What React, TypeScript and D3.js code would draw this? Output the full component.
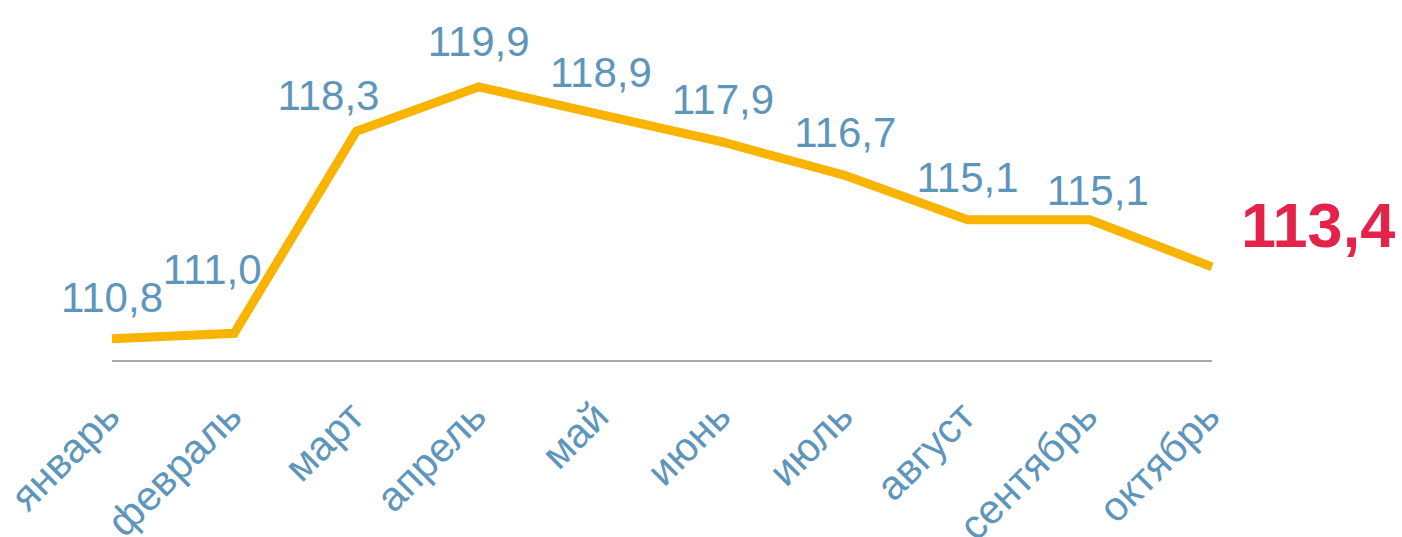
import { useEffect, useRef } from 'react';
import * as d3 from 'd3';

// Monthly index values (Jan–Oct)
const months = ['январь', 'февраль', 'март', 'апрель', 'май', 'июнь', 'июль', 'август', 'сентябрь', 'октябрь'];
const values = [110.8, 111.0, 118.3, 119.9, 118.9, 117.9, 116.7, 115.1, 115.1, 113.4];
const valueLabels = ['110,8', '111,0', '118,3', '119,9', '118,9', '117,9', '116,7', '115,1', '115,1', '113,4'];

// manual nudges of the value labels, as in the original slide
const labelNudge: [number, number][] = [
  [0, -27], [-22, -49], [-28, -21], [0, -31], [0, -28],
  [0, -28], [0, -28], [0, -28], [8, -15], [0, -28],
];

export default function App() {
  const svgRef = useRef<SVGSVGElement>(null);

  useEffect(() => {
    if (!svgRef.current) return;
    const svg = d3.select(svgRef.current);
    svg.selectAll('*').remove();

    const width = 1402;
    const height = 537;
    const blue = '#5e96bb';
    const font = '"Liberation Sans", Arial, sans-serif';

    svg.attr('width', width).attr('height', height);

    const x = d3.scalePoint<string>().domain(months).range([112, 1212]);
    const y = d3.scaleLinear().domain([110, 123]).range([361, 1]);

    // baseline (category axis)
    svg.append('line')
      .attr('x1', x(months[0])!)
      .attr('x2', x(months[months.length - 1])!)
      .attr('y1', y(110))
      .attr('y2', y(110))
      .attr('stroke', '#8a8a8a')
      .attr('stroke-width', 1.5);

    // category labels, rotated
    svg.append('g')
      .selectAll('text')
      .data(months)
      .join('text')
      .attr('transform', d => `translate(${x(d)! + 10}, ${y(110) + 58}) rotate(-45)`)
      .attr('text-anchor', 'end')
      .style('fill', blue)
      .style('font-family', font)
      .style('font-size', '41px')
      .text(d => d);

    // the line
    const line = d3.line<number>()
      .x((_, i) => x(months[i])!)
      .y(d => y(d));

    svg.append('path')
      .datum(values)
      .attr('d', line)
      .attr('fill', 'none')
      .attr('stroke', '#f8b400')
      .attr('stroke-width', 9)
      .attr('stroke-linejoin', 'miter')
      .attr('stroke-linecap', 'butt');

    // value labels (all but the last one)
    const last = values.length - 1;
    svg.append('g')
      .selectAll('text')
      .data(values.slice(0, last))
      .join('text')
      .attr('x', (_, i) => x(months[i])! + labelNudge[i][0])
      .attr('y', (d, i) => y(d) + labelNudge[i][1])
      .attr('text-anchor', 'middle')
      .style('fill', blue)
      .style('font-family', font)
      .style('font-size', '42px')
      .text((_, i) => valueLabels[i]);

    // highlighted last value
    svg.append('text')
      .attr('x', x(months[last])! + 29)
      .attr('y', y(values[last]) - 20)
      .attr('text-anchor', 'start')
      .style('fill', '#e4234a')
      .style('font-family', font)
      .style('font-weight', 'bold')
      .style('font-size', '63px')
      .text(valueLabels[last]);
  }, []);

  return (
    <div style={{ position: 'absolute', left: 0, top: 0 }}>
      <svg ref={svgRef} style={{ display: 'block' }} />
    </div>
  );
}
